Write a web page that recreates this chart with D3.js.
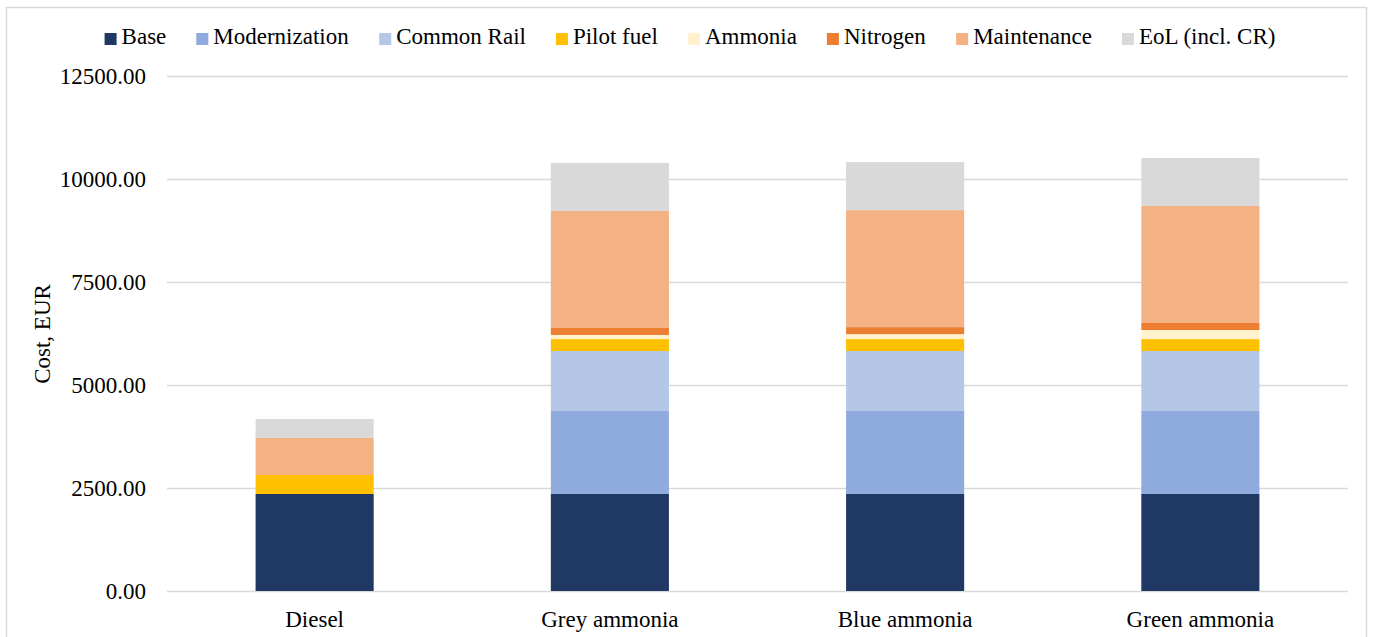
<!DOCTYPE html>
<html>
<head>
<meta charset="utf-8">
<script src="https://cdn.jsdelivr.net/npm/d3@7"></script>
<style>
  body { margin: 0; background: #fff; }
  svg text { font-family: 'Liberation Serif', 'Times New Roman', serif !important; }
</style>
</head>
<body>
<svg id="chart"></svg>
<script>
// categories and stacked series (EUR)
const categories = ['Diesel', 'Grey ammonia', 'Blue ammonia', 'Green ammonia'];
const seriesNames = ['Base', 'Modernization', 'Common Rail', 'Pilot fuel', 'Ammonia', 'Nitrogen', 'Maintenance', 'EoL (incl. CR)'];
const base = [2355, 2355, 2355, 2355];
const modernization = [0, 2015, 2015, 2015];
const commonRail = [0, 1455, 1455, 1455];
const pilotFuel = [460, 290, 290, 290];
const ammonia = [0, 100, 120, 220];
const nitrogen = [0, 170, 170, 170];
const maintenance = [900, 2840, 2840, 2840];
const eol = [460, 1165, 1165, 1165];
const yTicks = [0, 2500, 5000, 7500, 10000, 12500];
const colors = ['#203864', '#8faadc', '#b4c7e7', '#ffc000', '#fff2cc', '#ed7d31', '#f4b183', '#d9d9d9'];

const W = 1373, H = 637;
const m = { left: 167, right: 25, top: 76, bottom: 46 };
const fs = 23;

const svg = d3.select('#chart').attr('width', W).attr('height', H);

// outer frame
svg.append('rect')
  .attr('x', 6.5).attr('y', 7.5)
  .attr('width', 1360).attr('height', 660)
  .attr('fill', 'none').attr('stroke', '#d9d9d9').attr('stroke-width', 1.5);

const allSeries = [base, modernization, commonRail, pilotFuel, ammonia, nitrogen, maintenance, eol];
const rows = categories.map((c, i) => {
  const r = { cat: c };
  seriesNames.forEach((s, j) => r[s] = allSeries[j][i]);
  return r;
});
const stacked = d3.stack().keys(seriesNames)(rows);

const x = d3.scaleBand()
  .domain(categories)
  .range([m.left, W - m.right])
  .padding(0);
const y = d3.scaleLinear()
  .domain([0, 12500])
  .range([H - m.bottom, m.top]);
const color = d3.scaleOrdinal().domain(seriesNames).range(colors);

// gridlines
const yAxis = d3.axisLeft(y)
  .tickValues(yTicks)
  .tickSize(-(W - m.right - m.left))
  .tickPadding(21)
  .tickFormat(d3.format('.2f'));
const gy = svg.append('g')
  .attr('transform', `translate(${m.left},0)`)
  .call(yAxis);
gy.select('.domain').remove();
gy.selectAll('line').attr('stroke', '#d9d9d9').attr('stroke-width', 1.3);
gy.selectAll('text')
  .attr('font-size', fs)
  .attr('fill', '#000');

const barW = x.bandwidth() * 0.4;
svg.append('g')
  .selectAll('g')
  .data(stacked)
  .join('g')
    .attr('fill', d => color(d.key))
  .selectAll('rect')
  .data(d => d)
  .join('rect')
    .attr('x', d => x(d.data.cat) + (x.bandwidth() - barW) / 2)
    .attr('y', d => y(d[1]))
    .attr('width', barW)
    .attr('height', d => y(d[0]) - y(d[1]));

// category labels
const xAxis = d3.axisBottom(x).tickSize(0).tickPadding(20);
const gx = svg.append('g')
  .attr('transform', `translate(0,${H - m.bottom})`)
  .call(xAxis);
gx.select('.domain').remove();
gx.selectAll('text')
  .attr('font-size', fs)
  .attr('fill', '#000');

// y title
svg.append('text')
  .attr('transform', 'translate(50,334) rotate(-90)')
  .attr('text-anchor', 'middle')
  .attr('font-size', fs)
  .text('Cost, EUR');

// legend
const legend = svg.append('g').attr('font-size', fs);
const items = legend.selectAll('g')
  .data(seriesNames)
  .join('g');
items.append('rect')
  .attr('width', 12).attr('height', 12)
  .attr('y', -11)
  .attr('fill', d => color(d));
items.append('text')
  .attr('x', 17)
  .text(d => d);
let offset = 0;
items.each(function () {
  const w = this.getBBox().width;
  d3.select(this).attr('transform', `translate(${offset},0)`);
  offset += w + 30;
});
const total = offset - 30;
legend.attr('transform', `translate(${690 - total / 2},44)`);
</script>
</body>
</html>
